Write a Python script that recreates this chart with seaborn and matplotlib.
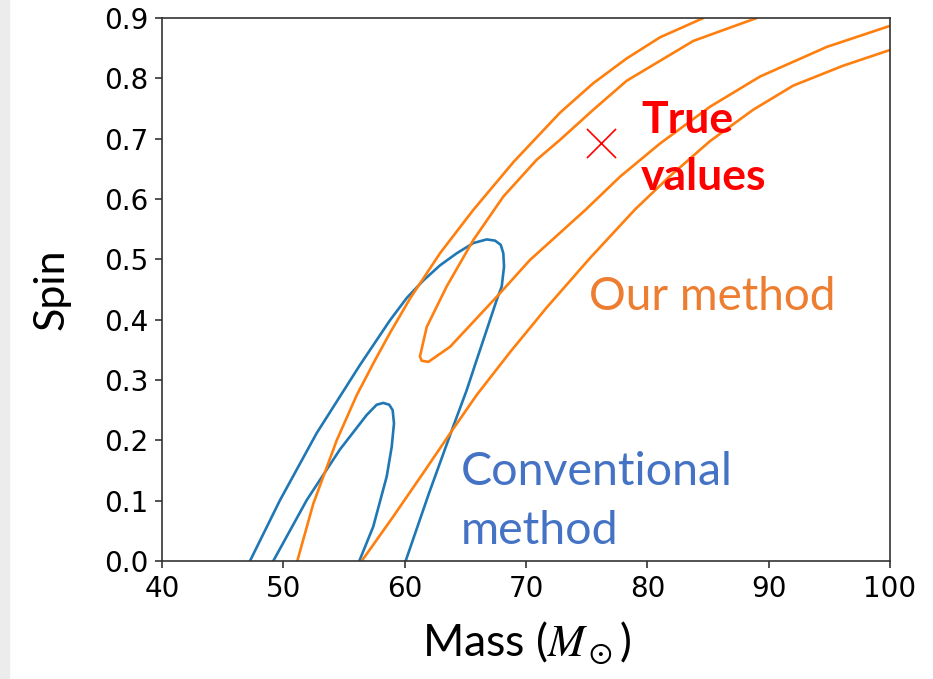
import numpy as np
import seaborn as sns
from matplotlib import pyplot as plt
from matplotlib.patches import Rectangle

# contour lines (mass in M_sun, spin)
blue_outer_mass = [47.25, 49.73, 52.75, 56.32, 58.79, 60.17, 61.54, 62.91, 64.29, 65.66, 66.76,
                   67.45, 67.92, 68.13, 68.19, 68.0, 67.59, 66.48, 65.93, 65.11, 64.0, 62.0, 60.08]
blue_outer_spin = [0.0, 0.101, 0.212, 0.325, 0.399, 0.436, 0.465, 0.490, 0.510, 0.527, 0.533,
                   0.531, 0.524, 0.510, 0.488, 0.455, 0.433, 0.366, 0.333, 0.283, 0.223, 0.112, 0.0]

blue_inner_mass = [49.17, 51.93, 54.67, 56.87, 57.69, 58.24, 58.73, 59.01, 59.12, 58.93,
                   58.52, 57.41, 56.26]
blue_inner_spin = [0.0, 0.101, 0.185, 0.242, 0.259, 0.262, 0.259, 0.250, 0.228, 0.189,
                   0.140, 0.057, 0.0]

orange_outer_left_mass = [51.15, 52.47, 54.40, 56.05, 57.56, 58.79, 60.44, 62.91, 65.66,
                          69.0, 72.8, 75.55, 78.3, 81.05, 84.62]
orange_outer_left_spin = [0.0, 0.095, 0.200, 0.275, 0.333, 0.378, 0.435, 0.510, 0.582,
                          0.662, 0.743, 0.792, 0.833, 0.868, 0.9]

orange_outer_right_mass = [56.46, 59.0, 61.6, 64.0, 65.93, 68.68, 71.70, 75.27, 79.0,
                           81.87, 85.17, 88.73, 92.03, 96.15, 100.0]
orange_outer_right_spin = [0.0, 0.072, 0.148, 0.219, 0.275, 0.346, 0.420, 0.502, 0.583,
                           0.638, 0.696, 0.748, 0.788, 0.821, 0.847]

orange_inner_mass = [89.01, 83.79, 78.30, 75.55, 72.80, 70.88, 68.13, 65.66, 63.46, 61.82, 61.26,
                     61.40, 61.95, 63.74, 67.59, 70.33, 74.9, 77.75, 81.05, 85.17, 89.29,
                     94.78, 100.0]
orange_inner_spin = [0.9, 0.862, 0.796, 0.748, 0.698, 0.665, 0.604, 0.532, 0.455, 0.388, 0.339,
                     0.332, 0.330, 0.355, 0.438, 0.499, 0.582, 0.637, 0.692, 0.753, 0.803,
                     0.852, 0.887]

true_mass = [76.2]
true_spin = [0.692]

x_ticks = [40, 50, 60, 70, 80, 90, 100]
y_ticks = [0.0, 0.1, 0.2, 0.3, 0.4, 0.5, 0.6, 0.7, 0.8, 0.9]
y_tick_labels = ['0.0', '0.1', '0.2', '0.3', '0.4', '0.5', '0.6', '0.7', '0.8', '0.9']

sns.set_theme(style='ticks')
plt.rcParams['font.family'] = ['DejaVu Sans']
plt.rcParams['mathtext.fontset'] = 'stix'

fig = plt.figure(figsize=(9.33, 6.79), dpi=100)
fig.patches.append(Rectangle((0, 0), 9 / 933, 1, transform=fig.transFigure,
                             color='#ececec', zorder=-1))
ax = fig.add_axes([162 / 933, 1 - 561 / 679, 728 / 933, 543 / 679])

blue = '#1f77b4'
orange = '#ff7f0e'
lw = 1.9

sns.lineplot(x=blue_outer_mass, y=blue_outer_spin, sort=False, estimator=None,
             color=blue, lw=lw, ax=ax)
sns.lineplot(x=blue_inner_mass, y=blue_inner_spin, sort=False, estimator=None,
             color=blue, lw=lw, ax=ax)
sns.lineplot(x=orange_outer_left_mass, y=orange_outer_left_spin, sort=False, estimator=None,
             color=orange, lw=lw, ax=ax)
sns.lineplot(x=orange_outer_right_mass, y=orange_outer_right_spin, sort=False, estimator=None,
             color=orange, lw=lw, ax=ax)
sns.lineplot(x=orange_inner_mass, y=orange_inner_spin, sort=False, estimator=None,
             color=orange, lw=lw, ax=ax)

sns.scatterplot(x=true_mass, y=true_spin, marker='x', s=440, color='red',
                linewidth=1.2, ax=ax, zorder=5)

ax.set_xlim(40, 100)
ax.set_ylim(0, 0.9)
ax.set_xticks(x_ticks)
ax.set_yticks(y_ticks)
ax.set_yticklabels(y_tick_labels)
ax.tick_params(labelsize=20, length=5, width=1.2, color='#333333', labelcolor='black', pad=5)
for s in ax.spines.values():
    s.set_color('#333333')
    s.set_linewidth(1.2)

ax.set_xlabel('Mass ($M_\\odot$)', fontsize=32, family='Lato', color='black', labelpad=12)
ax.set_ylabel('Spin', fontsize=31, family='Lato', color='black', labelpad=24)

# annotations
ax.text(79.5, 0.709, 'True', color='red', fontsize=32, family='Lato',
        fontweight='bold', va='baseline')
ax.text(79.5, 0.615, 'values', color='red', fontsize=32, family='Lato',
        fontweight='bold', va='baseline')
ax.text(75.2, 0.416, 'Our method', color='#ed7d31', fontsize=33, family='Lato',
        va='baseline')
ax.text(64.6, 0.126, 'Conventional', color='#4472c4', fontsize=33.5, family='Lato',
        va='baseline')
ax.text(64.6, 0.028, 'method', color='#4472c4', fontsize=33.5, family='Lato',
        va='baseline')

fig.savefig('out.png', dpi=100)
